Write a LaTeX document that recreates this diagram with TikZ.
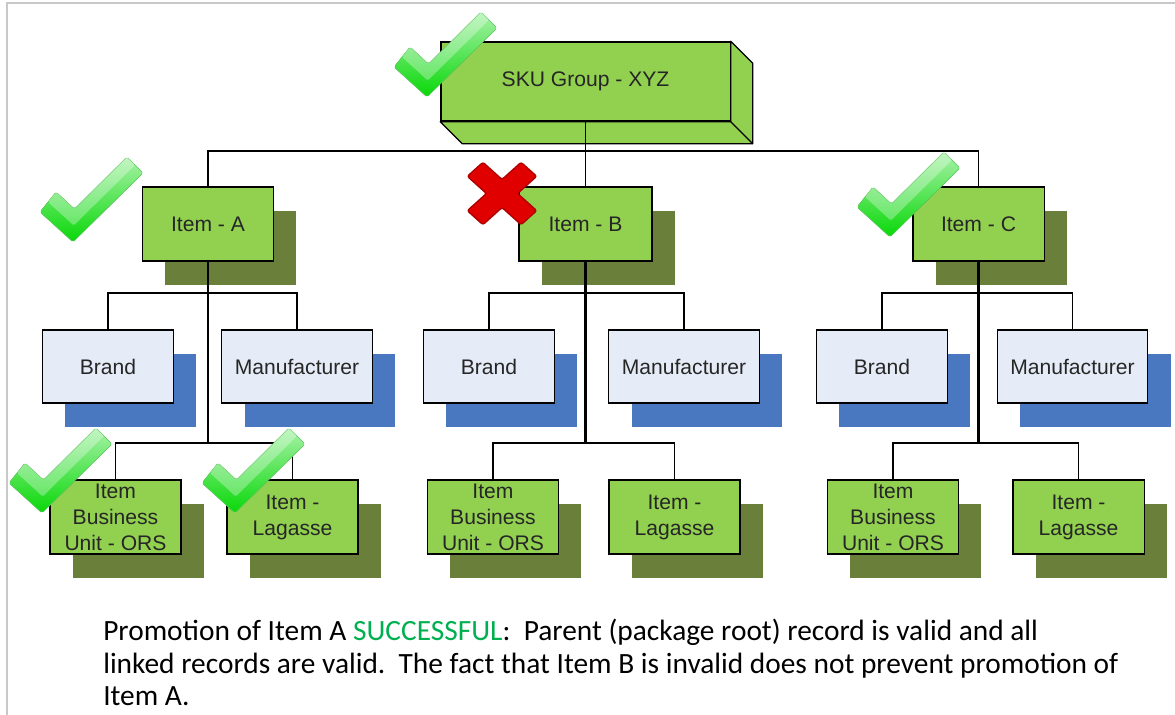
\documentclass[tikz,border=0pt]{standalone}
\usepackage{fontspec}
\setmainfont{Liberation Sans}
\newfontfamily\notefont{Carlito}
\usetikzlibrary{shadows}

\definecolor{itemgreen}{HTML}{92D050}
\definecolor{itemshadow}{HTML}{6A7F3A}
\definecolor{linkfill}{HTML}{E6ECF7}
\definecolor{linkshadow}{HTML}{4A78C0}
\definecolor{boxtext}{HTML}{262626}
\definecolor{okgreen}{HTML}{08D808}
\definecolor{oklight}{HTML}{A8F2A8}
\definecolor{okedge}{HTML}{60D060}
\definecolor{nored}{HTML}{E00000}
\definecolor{noredge}{HTML}{B00000}
\definecolor{successgreen}{HTML}{00B050}
\definecolor{framegray}{HTML}{C8C8C8}

\tikzset{
  boxtxt/.style={font=\fontsize{15}{18.5}\selectfont, text=boxtext, align=center, inner sep=0pt},
  skubox/.style={boxtxt, draw, line width=0.9pt, fill=itemgreen, minimum width=7.23cm, minimum height=1.98cm},
  itembox/.style={boxtxt, draw, line width=0.9pt, fill=itemgreen, minimum width=3.28cm, minimum height=1.85cm,
    general shadow={fill=itemshadow, shadow xshift=0.57cm, shadow yshift=-0.6cm}},
  linkbox/.style={boxtxt, draw, line width=0.9pt, fill=linkfill, minimum width=3.28cm, minimum height=1.83cm,
    general shadow={fill=linkshadow, shadow xshift=0.57cm, shadow yshift=-0.6cm}},
  widebox/.style={linkbox, minimum width=3.76cm},
  trunk/.style={line width=1.7pt},
  branch/.style={line width=1pt},
  okmark/.pic={
    \filldraw[top color=oklight, bottom color=okgreen, draw=okedge, line width=0.4pt, rounded corners=1.2pt]
      (0,0) -- (-33,-30) -- (-17,-50) -- (1.5,-33) -- (54,-85) -- (70,-69) -- cycle;
    \fill[white, opacity=0.3, rounded corners=1pt]
      (-17,-50) -- (1.5,-33) -- (54,-85) -- (62,-77) -- (0.75,-16.5) -- (-25,-40) -- cycle;
  }
}

\begin{document}
\begin{tikzpicture}[x=0.025cm, y=-0.025cm]
\useasboundingbox (0,0) rectangle (1175,715);
\draw[framegray, line width=0.8pt] (7,715) -- (7,3) -- (1175,3);

% package root
\node[skubox] (sku) at (585.5,81.5) {SKU Group - XYZ};
\filldraw[fill=itemgreen, line width=0.9pt, line join=round] (sku.south west) -- ++(22,22)
  -- ([shift={(22,22)}]sku.south east) -- ([shift={(22,22)}]sku.north east) -- (sku.north east)
  -- (sku.south east) -- cycle;
\draw[line width=0.9pt] (sku.south east) -- ++(22,22);

% items
\node[itembox] (itemA) at (208,224) {Item - A};
\node[itembox, minimum width=3.32cm] (itemB) at (585.5,224) {Item - B};
\node[itembox] (itemC) at (978.5,224) {Item - C};

% linked records
\node[linkbox] (brandA) at (108,366.5) {Brand};
\node[widebox] (mfrA) at (297,366.5) {Manufacturer};
\node[linkbox] (brandB) at (489,366.5) {Brand};
\node[widebox] (mfrB) at (684,366.5) {Manufacturer};
\node[linkbox] (brandC) at (882,366.5) {Brand};
\node[widebox] (mfrC) at (1072.5,366.5) {Manufacturer};

\node[itembox] (orsA) at (115.5,517) {Item\\Business\\Unit - ORS};
\node[itembox] (lagA) at (292.5,517) {Item -\\Lagasse};
\node[itembox] (orsB) at (493,517) {Item\\Business\\Unit - ORS};
\node[itembox] (lagB) at (674.5,517) {Item -\\Lagasse};
\node[itembox] (orsC) at (893,517) {Item\\Business\\Unit - ORS};
\node[itembox] (lagC) at (1078.5,517) {Item -\\Lagasse};

% joints
\coordinate (bar) at (585.5,151);
\coordinate (jA1) at (208,293);
\coordinate (jA2) at (208,443);
\coordinate (jB1) at (585.5,293);
\coordinate (jB2) at (585.5,443);
\coordinate (jC1) at (978.5,293);
\coordinate (jC2) at (978.5,443);

\draw[branch, line width=1.2pt] (sku.south) -- (itemB.north);
\draw[branch] (itemA.north) |- (bar) -| (itemC.north);

\draw[trunk] (itemA.south) -- (jA2);
\draw[branch] (brandA.north) |- (jA1) -| (mfrA.north);
\draw[branch] (orsA.north) |- (jA2) -| (lagA.north);

\draw[trunk] (itemB.south) -- (jB2);
\draw[branch] (brandB.north) |- (jB1) -| (mfrB.north);
\draw[branch] (orsB.north) |- (jB2) -| (lagB.north);

\draw[trunk] (itemC.south) -- (jC2);
\draw[branch] (brandC.north) |- (jC1) -| (mfrC.north);
\draw[branch] (orsC.north) |- (jC2) -| (lagC.north);

% status marks
\pic at (427,97) {okmark};
\pic at (73,242) {okmark};
\pic at (890,237) {okmark};
\pic at (42,513) {okmark};
\pic at (235,513) {okmark};

\begin{scope}[shift={(502,193.5)}, yscale=0.9, rotate=45]
  \filldraw[fill=nored, draw=noredge, line width=1pt, rounded corners=1.5pt]
    (-11,-38) -- (11,-38) -- (11,-11) -- (38,-11) -- (38,11) -- (11,11) -- (11,38)
    -- (-11,38) -- (-11,11) -- (-38,11) -- (-38,-11) -- (-11,-11) -- cycle;
\end{scope}

% note
\node[anchor=north west, align=left, inner sep=0pt, font=\notefont\fontsize{20.9}{23.1}\selectfont] (note) at (103,619)
  {Promotion of Item A \textcolor{successgreen}{SUCCESSFUL}:\ \ Parent (package root) record is valid and all\\
   linked records are valid.\ \ The fact that Item B is invalid does not prevent promotion of\\
   Item A.};
\end{tikzpicture}
\end{document}
